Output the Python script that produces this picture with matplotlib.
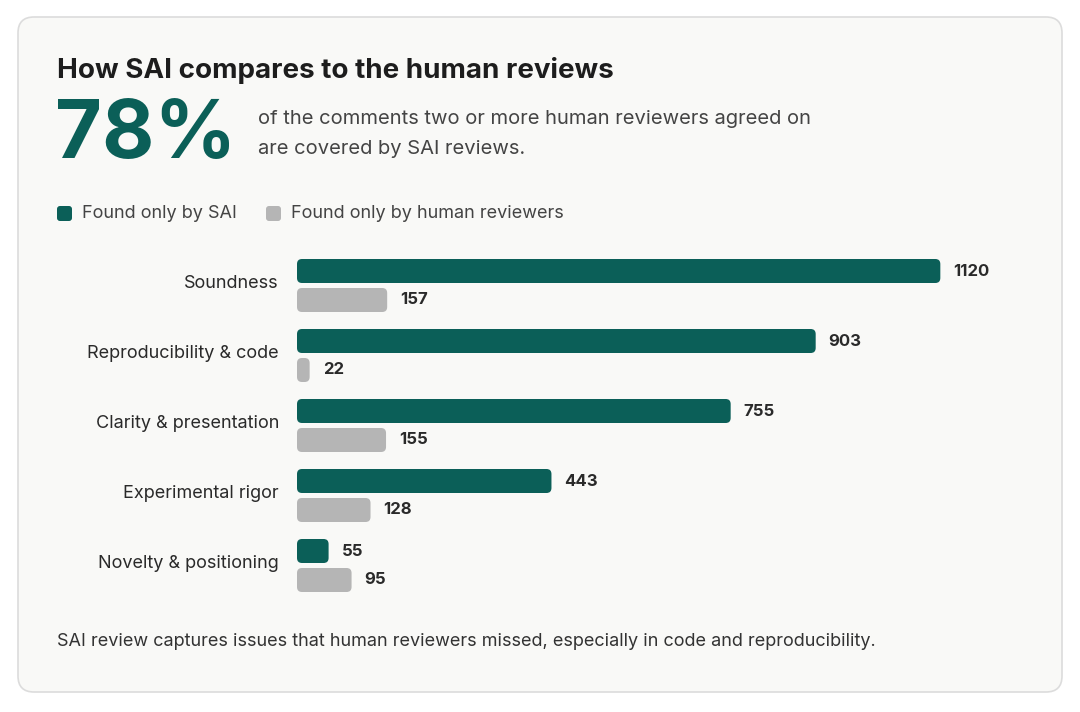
import matplotlib.pyplot as plt
from matplotlib.patches import FancyBboxPatch

plt.rcParams['font.family'] = ['Inter', 'DejaVu Sans']

categories = ["Soundness", "Reproducibility & code", "Clarity & presentation",
              "Experimental rigor", "Novelty & positioning"]
sai_only = [1120, 903, 755, 443, 55]
human_only = [157, 22, 155, 128, 95]

TEAL = "#0b5f58"
GRAY = "#b5b5b5"
TXT = "#2a2a2a"

W, H = 1080, 712
fig = plt.figure(figsize=(W / 100, H / 100), dpi=100)
fig.patch.set_facecolor("white")

# card background
card = fig.add_axes([0, 0, 1, 1])
card.set_xlim(0, W)
card.set_ylim(H, 0)
card.axis("off")
card.add_patch(FancyBboxPatch((18, 17), 1044, 675, boxstyle="round,pad=0,rounding_size=16",
                              facecolor="#f9f9f7", edgecolor="#dcdcdc", linewidth=1.2))
card.text(57, 70, "How SAI compares to the human reviews", fontsize=20, fontweight="bold",
          color="#1d1d1d", va="center")
card.text(55, 137, "78%", fontsize=58, fontweight="bold", color=TEAL, va="center")
card.text(258, 119, "of the comments two or more human reviewers agreed on", fontsize=14.5,
          color="#444444", va="center")
card.text(258, 149, "are covered by SAI reviews.", fontsize=14.5, color="#444444", va="center")
card.add_patch(FancyBboxPatch((57, 206), 15, 15, boxstyle="round,pad=0,rounding_size=3",
                              facecolor=TEAL, edgecolor="none"))
card.text(82, 214, "Found only by SAI", fontsize=13, color="#444444", va="center")
card.add_patch(FancyBboxPatch((266, 206), 15, 15, boxstyle="round,pad=0,rounding_size=3",
                              facecolor=GRAY, edgecolor="none"))
card.text(291, 214, "Found only by human reviewers", fontsize=13, color="#444444", va="center")
card.text(57, 642, "SAI review captures issues that human reviewers missed, especially in code and reproducibility.",
          fontsize=13, color="#333333", va="center")

# bar chart axes: 297px..1015px wide, 250px..600px tall
ax = fig.add_axes([297 / W, 1 - 600 / H, 718 / W, 350 / H])
ax.set_facecolor("none")
XMAX = 1250
ax.set_xlim(0, XMAX)
ax.set_ylim(350, 0)
ax.axis("off")
px_per_x = 718 / XMAX
bh = 24
r_px = 5
for i, cat in enumerate(categories):
    y1 = 21 + 70 * i
    y2 = 50 + 70 * i
    for val, yc, col in [(sai_only[i], y1, TEAL), (human_only[i], y2, GRAY)]:
        ax.add_patch(FancyBboxPatch((0, yc - bh / 2), val, bh,
                                    boxstyle=f"round,pad=0,rounding_size={r_px / px_per_x}",
                                    mutation_aspect=px_per_x, facecolor=col, edgecolor="none"))
        ax.text(val + 13 / px_per_x, yc, f"{val}", fontsize=12, fontweight="bold",
                color=TXT, va="center", ha="left")
    ax.text(-18 / px_per_x, (y1 + y2) / 2 - 2, cat, fontsize=13, color=TXT,
            va="center", ha="right", clip_on=False)

fig.savefig("out.png", dpi=100)
